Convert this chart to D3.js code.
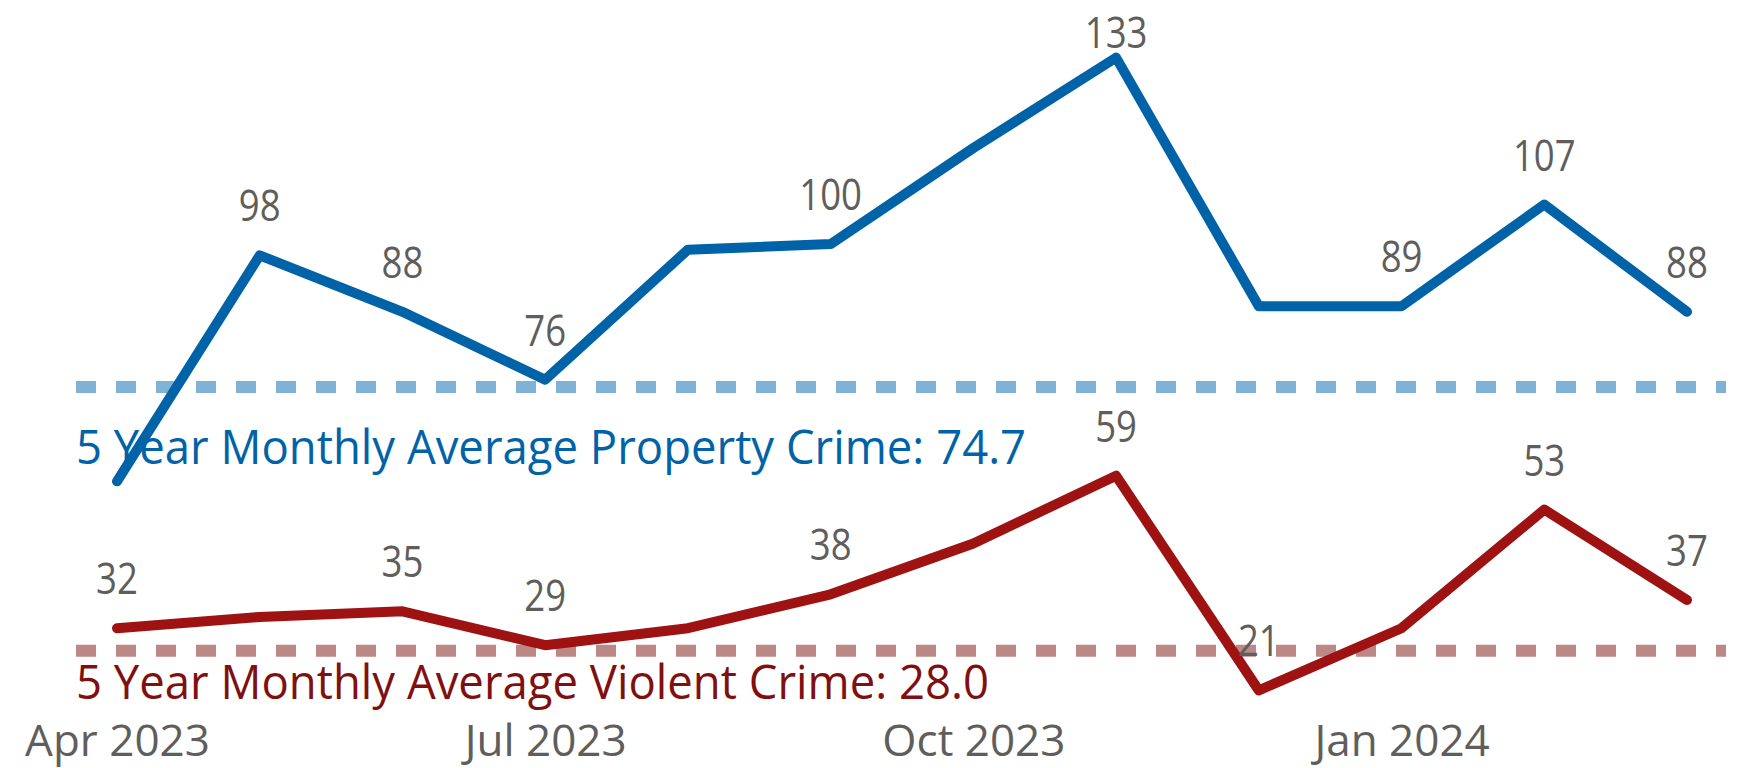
<!DOCTYPE html>
<html>
<head>
<meta charset="utf-8">
<script src="https://cdn.jsdelivr.net/npm/d3@7"></script>
<style>
  html, body { margin: 0; padding: 0; background: #ffffff; }
  svg { display: block; }
  text { font-family: "Segoe UI", "Open Sans", "Noto Sans", sans-serif; }
</style>
</head>
<body>
<div id="chart"></div>
<script>
// Monthly counts, Apr 2023 - Mar 2024
const months = ["Apr 2023", "May 2023", "Jun 2023", "Jul 2023", "Aug 2023", "Sep 2023",
                "Oct 2023", "Nov 2023", "Dec 2023", "Jan 2024", "Feb 2024", "Mar 2024"];
const propertyCrime = [58, 98, 88, 76, 99, 100, 117, 133, 89, 89, 107, 88];
const violentCrime  = [32, 34, 35, 29, 32, 38, 47, 59, 21, 32, 53, 37];

// which points carry a data label
const propertyLabelled = ["May 2023", "Jun 2023", "Jul 2023", "Sep 2023", "Nov 2023", "Jan 2024", "Feb 2024", "Mar 2024"];
const violentLabelled  = ["Apr 2023", "Jun 2023", "Jul 2023", "Sep 2023", "Nov 2023", "Dec 2023", "Feb 2024", "Mar 2024"];

// 5 year averages (reference lines)
const avgProperty = 74.7;
const avgViolent = 28.0;

const tickLabels = ["Apr 2023", "Jul 2023", "Oct 2023", "Jan 2024"];

const width = 1745, height = 768;
const svg = d3.select("#chart").append("svg")
  .attr("width", width)
  .attr("height", height);

svg.append("rect").attr("width", width).attr("height", height).attr("fill", "#fff");

const x = d3.scalePoint()
  .domain(months)
  .range([117, 1687]);

// value axis is hidden; zero sits just below the visible area
const y = d3.scaleLinear()
  .domain([0, 143.2])
  .range([809, 0]);

const series = [
  { name: "Property Crime", values: propertyCrime, avg: avgProperty, labelled: propertyLabelled,
    line: "#0063a8", dash: "#7fb2d4", text: "#0063a8", avgDy: 77 },
  { name: "Violent Crime", values: violentCrime, avg: avgViolent, labelled: violentLabelled,
    line: "#9e1212", dash: "#bc8886", text: "#801010", avgDy: 48 }
];

// reference lines first, under the data lines
series.forEach(s => {
  svg.append("line")
    .attr("x1", 76)
    .attr("x2", 1726)
    .attr("y1", y(s.avg))
    .attr("y2", y(s.avg))
    .attr("stroke", s.dash)
    .attr("stroke-width", 12)
    .attr("stroke-dasharray", "20 20");
});

series.forEach(s => {
  svg.append("text")
    .attr("transform", `translate(76,${y(s.avg) + s.avgDy}) scale(0.968,1)`)
    .attr("fill", s.text)
    .style("font-size", "47px")
    .text(`5 Year Monthly Average ${s.name}: ${s.avg.toFixed(1)}`);
});

const line = d3.line()
  .x((d, i) => x(months[i]))
  .y(d => y(d));

series.forEach(s => {
  svg.append("path")
    .datum(s.values)
    .attr("fill", "none")
    .attr("stroke", s.line)
    .attr("stroke-width", 10)
    .attr("stroke-linejoin", "round")
    .attr("stroke-linecap", "round")
    .attr("d", line);
});

// data labels above the points
series.forEach(s => {
  const pts = months.map((m, i) => ({ m, v: s.values[i] }))
    .filter(d => s.labelled.includes(d.m));
  svg.append("g").selectAll("text")
    .data(pts)
    .join("text")
    .attr("transform", d => `translate(${x(d.m)},${Math.max(y(d.v) - 34, 48)}) scale(0.85,1)`)
    .attr("text-anchor", "middle")
    .attr("fill", "#605e5c")
    .style("font-size", "43px")
    .text(d => d.v);
});

// category axis, quarterly labels only, no line or ticks
const axis = svg.append("g")
  .attr("transform", "translate(0,756)")
  .call(d3.axisBottom(x).tickValues(tickLabels).tickSize(0).tickPadding(0));
axis.select(".domain").remove();
axis.selectAll("text")
  .attr("dy", 0)
  .attr("fill", "#605e5c")
  .style("font-size", "44px")
  .style("font-family", "\"Segoe UI\", \"Open Sans\", \"Noto Sans\", sans-serif");
</script>
</body>
</html>
